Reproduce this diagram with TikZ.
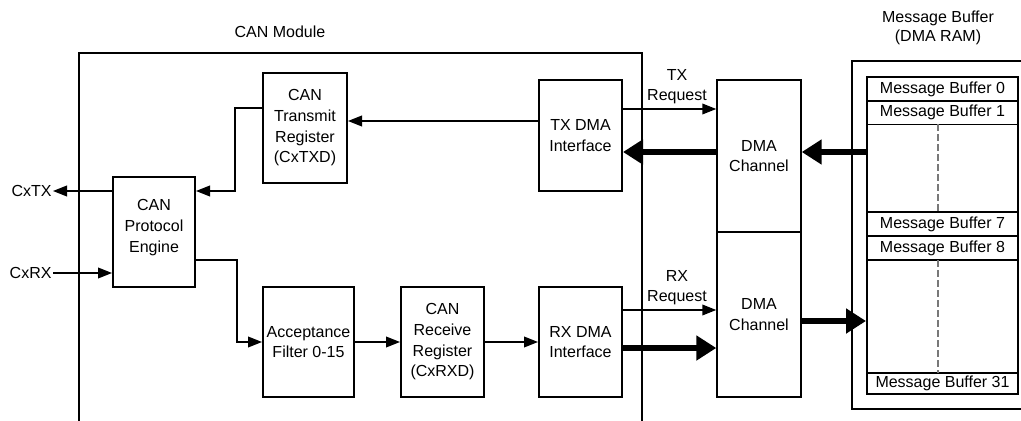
\documentclass[tikz,border=0pt]{standalone}
\usepackage{fontspec}
\setmainfont{Liberation Sans}
\usetikzlibrary{arrows.meta}

\tikzset{every picture/.style={line width=0.75pt}}
\tikzset{
  blk/.style={draw, line width=1.5pt, inner sep=0pt, align=center, font=\fontsize{12}{15.5}\selectfont},
  thinblk/.style={blk, line width=1.1pt},
  buf/.style={draw, line width=1.3pt, inner sep=0pt, minimum width=113.25pt, minimum height=18pt, font=\fontsize{12}{14}\selectfont},
  lbl/.style={inner sep=0.75pt, align=center, font=\fontsize{12}{14.5}\selectfont},
  arw/.style={line width=1.3pt, -{Triangle[length=10.5pt,width=8pt]}},
  bigarw/.style={line width=4.5pt, -{Triangle[length=15pt,width=18pt]}},
}

\begin{document}
\begin{tikzpicture}[x=0.75pt,y=0.75pt,yscale=-1,xscale=1]
\useasboundingbox (0,0) rectangle (1021,421);

%Shape: CAN Module frame
\draw [line width=1.1pt]  (79,421) -- (79,53) -- (642,53) -- (642,421) ;
%Shape: Message Buffer frame
\draw [line width=1.8pt]  (1021,61) -- (852,61) -- (852,409) -- (1021,409) ;

%Shape: Rectangle
\draw (305,128) node [blk, minimum width=63pt, minimum height=82.5pt] (txreg) {CAN\\Transmit\\Register\\(CxTXD)};
%Shape: Rectangle
\draw (154,232) node [blk, minimum width=61.5pt, minimum height=82.5pt] (engine) {CAN\\Protocol\\Engine\\[-6.5pt]};
%Shape: Rectangle
\draw (308.5,342) node [blk, minimum width=68.25pt, minimum height=82.5pt] (filter) {Acceptance\\Filter 0-15};
%Shape: Rectangle
\draw (442.5,342) node [blk, minimum width=62.25pt, minimum height=82.5pt] (rxreg) {CAN\\Receive\\Register\\(CxRXD)};
%Shape: Rectangle
\draw (580.5,135.5) node [blk, minimum width=62.25pt, minimum height=83.25pt] (txdma) {TX DMA\\Interface};
%Shape: Rectangle
\draw (580.5,342) node [blk, minimum width=62.25pt, minimum height=82.5pt] (rxdma) {RX DMA\\Interface};
%Shape: Rectangle
\draw (759,156) node [thinblk, minimum width=63pt, minimum height=114pt] (dmatx) {DMA\\Channel};
%Shape: Rectangle
\draw (759,314.5) node [thinblk, minimum width=63pt, minimum height=123.75pt] (dmarx) {DMA\\Channel};

%Shape: Rectangle
\draw (942.5,235.5) node [draw, line width=1.5pt, minimum width=113.25pt, minimum height=237.75pt] (mbram) {};
%Shape: Rectangle
\draw (942.5,89) node [buf] (mb0) {Message Buffer 0};
\draw (942.5,112.5) node [buf] (mb1) {Message Buffer 1};
\draw (942.5,224) node [buf] (mb7) {Message Buffer 7};
\draw (942.5,248) node [buf] (mb8) {Message Buffer 8};
\draw (942.5,383.5) node [buf, minimum height=15.75pt] (mb31) {Message Buffer 31};
%Straight Lines
\draw [color={rgb, 255:red, 120; green, 120; blue, 120 }, dash pattern=on 5pt off 2.5pt, line width=1.1pt]  (938,124) -- (938,212) ;
\draw [color={rgb, 255:red, 120; green, 120; blue, 120 }, dash pattern=on 5pt off 2.5pt, line width=1.1pt]  (938,260) -- (938,373) ;

% Text Node
\draw (53,191) node [lbl, anchor=east] (cxtx) {CxTX};
% Text Node
\draw (53,273) node [lbl, anchor=east] (cxrx) {CxRX};
% Text Node
\draw (280,32) node [lbl] (canmod) {CAN Module};
% Text Node
\draw (938,28) node [lbl, font=\fontsize{12}{14.25}\selectfont] (mbtitle) {Message Buffer\\(DMA RAM)};
% Text Node
\draw (677,87) node [lbl, font=\fontsize{12}{15}\selectfont] (txreq) {TX\\Request};
% Text Node
\draw (677,287.5) node [lbl, font=\fontsize{12}{15}\selectfont] (rxreq) {RX\\Request};

%Straight Lines
\draw [arw]  (txreg.west |- 0,108) -- ++(-27,0) |- (engine.east |- 0,191) ;
\draw [arw]  (engine.west |- 0,191) -- (cxtx.east) ;
\draw [arw]  (cxrx.east) -- (engine.west |- cxrx.east) ;
\draw [arw]  (engine.east |- 0,260) -- ++(41,0) |- (filter.west) ;
\draw [arw]  (filter.east) -- (rxreg.west) ;
\draw [arw]  (rxreg.east) -- (rxdma.west) ;
\draw [arw]  (txdma.west |- 0,121) -- (txreg.east |- 0,121) ;
\draw [arw]  (txdma.east |- 0,109) -- (dmatx.west |- 0,109) ;
\draw [arw]  (rxdma.east |- 0,310) -- (dmarx.west |- 0,310) ;
%Straight Lines
\draw [bigarw]  (dmatx.west |- 0,152) -- (txdma.east |- 0,152) ;
\draw [bigarw]  (mbram.west |- 0,152) -- (dmatx.east |- 0,152) ;
\draw [bigarw]  (rxdma.east |- 0,348) -- (dmarx.west |- 0,348) ;
\draw [bigarw]  (dmarx.east |- 0,321) -- (mbram.west |- 0,321) ;

\end{tikzpicture}
\end{document}
